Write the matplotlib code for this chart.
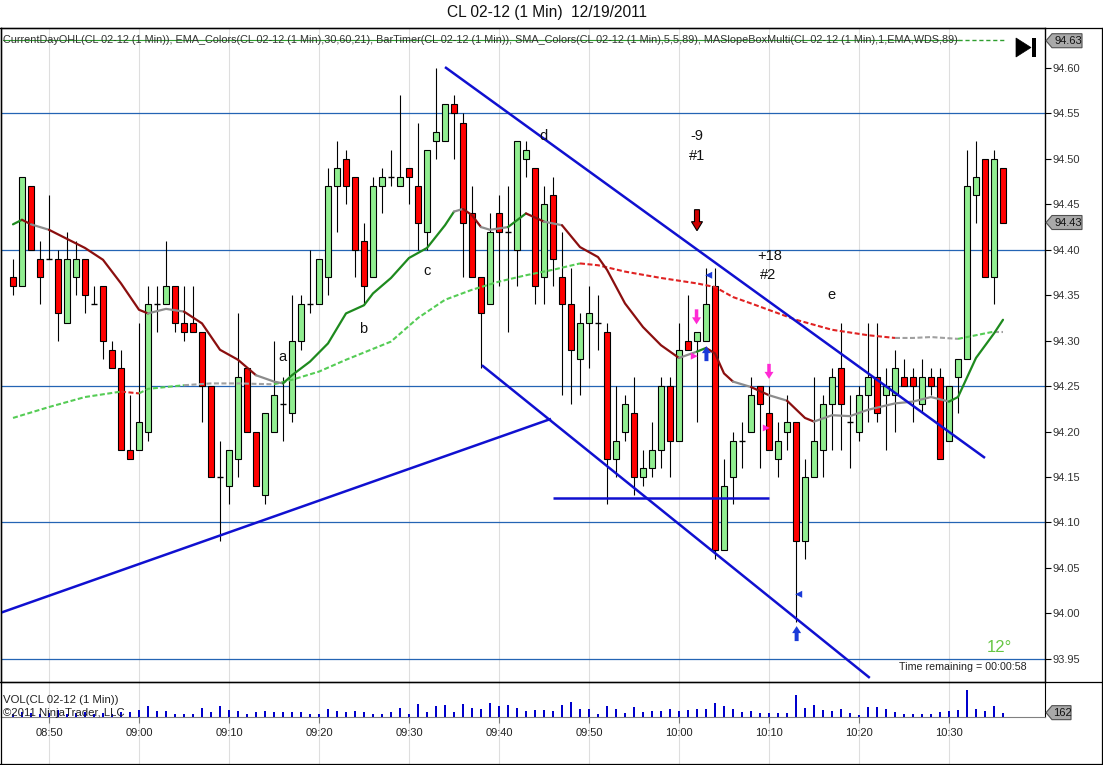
import matplotlib
matplotlib.use("Agg")
import matplotlib.pyplot as plt
import numpy as np
import pandas as pd
from matplotlib.patches import Rectangle, Polygon

plt.rcParams['font.family'] = ['Liberation Sans', 'DejaVu Sans']

W, H = 1103, 765

# ---------------- data ----------------
title = "CL 02-12 (1 Min)  12/19/2011"
indicator_text = ("CurrentDayOHL(CL 02-12 (1 Min)), EMA_Colors(CL 02-12 (1 Min),30,60,21), "
                  "BarTimer(CL 02-12 (1 Min)), SMA_Colors(CL 02-12 (1 Min),5,5,89), "
                  "MASlopeBoxMulti(CL 02-12 (1 Min),1,EMA,WDS,89)")
bar_times = pd.date_range("2011-12-19 08:46", periods=111, freq="min")
tick_labels = ["08:50", "09:00", "09:10", "09:20", "09:30", "09:40",
               "09:50", "10:00", "10:10", "10:20", "10:30"]

opens = [94.37,94.36,94.47,94.39,94.39,94.39,94.32,94.37,94.39,94.34,
         94.36,94.29,94.27,94.18,94.18,94.20,94.34,94.34,94.36,94.32,
         94.32,94.31,94.25,94.15,94.14,94.17,94.27,94.20,94.13,94.20,
         94.23,94.22,94.30,94.34,94.34,94.37,94.47,94.50,94.48,94.41,
         94.37,94.47,94.48,94.47,94.49,94.47,94.42,94.52,94.52,94.56,
         94.54,94.44,94.37,94.34,94.44,94.42,94.40,94.50,94.49,94.37,
         94.46,94.37,94.34,94.28,94.32,94.32,94.31,94.17,94.20,94.22,
         94.15,94.16,94.18,94.25,94.19,94.30,94.30,94.30,94.36,94.07,
         94.15,94.19,94.20,94.25,94.22,94.17,94.20,94.21,94.08,94.15,
         94.18,94.23,94.27,94.21,94.20,94.24,94.26,94.24,94.24,94.26,
         94.26,94.23,94.26,94.26,94.19,94.26,94.28,94.46,94.50,94.37,
         94.49]
highs = [94.39,94.48,94.47,94.41,94.46,94.40,94.42,94.41,94.39,94.36,
         94.36,94.30,94.29,94.24,94.32,94.36,94.36,94.41,94.36,94.36,
         94.36,94.31,94.25,94.19,94.18,94.33,94.27,94.20,94.22,94.30,
         94.26,94.35,94.35,94.40,94.39,94.49,94.52,94.51,94.48,94.43,
         94.48,94.49,94.51,94.57,94.49,94.54,94.51,94.60,94.56,94.57,
         94.55,94.47,94.37,94.44,94.46,94.47,94.52,94.52,94.49,94.47,
         94.48,94.42,94.38,94.33,94.36,94.35,94.32,94.25,94.24,94.26,
         94.18,94.21,94.26,94.26,94.32,94.35,94.31,94.38,94.38,94.17,
         94.20,94.21,94.26,94.25,94.25,94.21,94.24,94.21,94.17,94.26,
         94.24,94.27,94.32,94.24,94.25,94.32,94.32,94.27,94.29,94.28,
         94.27,94.28,94.27,94.27,94.25,94.28,94.51,94.52,94.50,94.51,
         94.49]
lows = [94.35,94.36,94.40,94.34,94.39,94.30,94.32,94.35,94.33,94.34,
        94.28,94.27,94.18,94.17,94.18,94.19,94.31,94.34,94.31,94.30,
        94.31,94.21,94.15,94.08,94.12,94.15,94.20,94.14,94.12,94.20,
        94.19,94.21,94.29,94.33,94.34,94.35,94.42,94.45,94.37,94.34,
        94.37,94.44,94.47,94.47,94.45,94.40,94.40,94.50,94.52,94.50,
        94.37,94.37,94.27,94.34,94.36,94.31,94.36,94.48,94.34,94.34,
        94.36,94.24,94.23,94.24,94.27,94.29,94.12,94.15,94.19,94.13,
        94.14,94.15,94.16,94.15,94.19,94.29,94.21,94.30,94.06,94.07,
        94.12,94.16,94.20,94.16,94.18,94.15,94.18,93.99,94.06,94.15,
        94.15,94.18,94.18,94.16,94.19,94.21,94.21,94.18,94.20,94.25,
        94.21,94.22,94.24,94.17,94.19,94.22,94.28,94.43,94.37,94.34,
        94.43]
closes = [94.36,94.48,94.40,94.37,94.39,94.33,94.39,94.39,94.35,94.34,
          94.30,94.27,94.18,94.17,94.21,94.34,94.34,94.36,94.32,94.31,
          94.31,94.25,94.15,94.15,94.18,94.26,94.20,94.14,94.22,94.24,
          94.23,94.30,94.34,94.34,94.39,94.47,94.49,94.47,94.40,94.36,
          94.47,94.48,94.48,94.48,94.48,94.43,94.51,94.53,94.56,94.55,
          94.43,94.37,94.33,94.42,94.42,94.42,94.52,94.51,94.36,94.45,
          94.39,94.34,94.29,94.32,94.33,94.32,94.17,94.19,94.23,94.15,
          94.16,94.18,94.25,94.19,94.29,94.29,94.31,94.34,94.07,94.14,
          94.19,94.19,94.24,94.23,94.18,94.19,94.21,94.08,94.15,94.19,
          94.23,94.26,94.23,94.21,94.24,94.26,94.22,94.25,94.27,94.25,
          94.25,94.26,94.25,94.17,94.25,94.28,94.47,94.48,94.37,94.50,
          94.43]
volumes = [120,200,150,100,150,250,120,150,200,100,150,120,180,
           187,249,411,212,212,100,100,100,349,187,399,249,212,100,187,212,
           187,187,187,187,100,100,287,212,187,212,187,100,100,187,349,100,
           473,187,399,436,187,473,349,312,523,411,436,349,212,249,249,212,
           449,561,287,312,100,411,287,162,374,187,224,224,287,224,249,287,
           312,536,411,287,187,224,162,162,162,162,822,349,449,249,224,287,
           162,62,374,374,287,187,100,100,100,100,187,224,249,1009,312,224,
           411,162]

# EMA (solid, slope coloured) read at bar indices
ema_idx = [0,1,2,4,6,8,10,12,14,15,17,19,21,23,25,27,29,30,31,33,
           35,37,39,40,42,44,46,48,49,50,51,52,53,55,57,59,61,63,65,66,
           68,70,72,74,76,77,78,79,80,82,84,86,88,89,91,93,95,98,100,102,
           104,105,107,109,110]
ema_val = [94.428,94.433,94.428,94.422,94.412,94.402,94.389,94.363,94.334,94.330,
           94.335,94.332,94.319,94.290,94.279,94.262,94.255,94.253,94.262,94.277,
           94.297,94.330,94.339,94.352,94.369,94.391,94.402,94.427,94.442,94.445,
           94.438,94.425,94.422,94.425,94.440,94.431,94.427,94.403,94.392,94.378,
           94.341,94.315,94.295,94.281,94.288,94.292,94.286,94.264,94.255,94.249,
           94.240,94.234,94.215,94.211,94.218,94.217,94.224,94.231,94.233,94.238,
           94.233,94.238,94.281,94.308,94.323]
# SMA 89 (dashed, slope coloured)
sma_idx = [0,4,8,12,14,15,19,22,25,29,31,34,37,42,45,48,51,54,57,60,
           63,65,68,72,76,78,80,82,87,91,95,98,100,102,105,106,109,110]
sma_val = [94.215,94.227,94.238,94.244,94.242,94.247,94.251,94.253,94.253,94.252,
           94.257,94.266,94.279,94.299,94.325,94.345,94.356,94.365,94.372,94.378,
           94.385,94.383,94.376,94.369,94.363,94.359,94.348,94.341,94.323,94.312,
           94.306,94.303,94.303,94.304,94.302,94.304,94.310,94.310]

level_lines = [94.55, 94.40, 94.25, 94.10, 93.95]
# drawn trend lines: (x0, p0, x1, p1) in bar index / price
trend_lines = [(-1.44, 94.0004, 59.78, 94.214),
               (48.0, 94.601, 108.0, 94.171),
               (52.1, 94.273, 95.2, 93.929),
               (60.0, 94.127, 84.0, 94.127)]
letters = [("a", 29.9, 94.282), ("b", 38.9, 94.313), ("c", 46.0, 94.377),
           ("d", 59.0, 94.525), ("e", 90.9, 94.350),
           ("-9", 76.0, 94.525), ("#1", 76.0, 94.503),
           ("+18", 84.1, 94.393), ("#2", 83.9, 94.372)]
last_price = 94.43
session_high = 94.63
last_volume = 162

# ---------------- layout ----------------
fig = plt.figure(figsize=(W / 100, H / 100), dpi=100)
fig.patch.set_facecolor("white")


def px_rect(left, top, right, bottom):
    return [left / W, 1 - bottom / H, (right - left) / W, (bottom - top) / H]


n = len(opens)
x = np.arange(n)
XL = (-1.333, 114.667)

bg = fig.add_axes(px_rect(1, 28, 1045, 764))
bg.set_xlim(*XL)
bg.set_axis_off()
bg.set_zorder(0)

ax = fig.add_axes(px_rect(1, 28, 1045, 682))
ax.set_zorder(1)
ax.set_facecolor("none")
axv = fig.add_axes(px_rect(1, 682, 1045, 717))
axv.set_zorder(1)
axv.set_facecolor("none")

ax.set_xlim(*XL)
ax.set_ylim(93.9245, 94.644)
axv.set_xlim(*XL)
axv.set_ylim(0, 1308)

labels_all = list(bar_times.strftime("%H:%M"))
tick_pos = [labels_all.index(t) for t in tick_labels]
for t in tick_pos:
    bg.axvline(t, color="#dedede", lw=0.8)

# horizontal level lines
for lv in level_lines:
    ax.axhline(lv, color="#2464b4", lw=0.9, zorder=1)

# candles
BW = 0.66
for i in range(n):
    o, h, l, c = opens[i], highs[i], lows[i], closes[i]
    ax.vlines(i, l, h, color="black", lw=0.8, zorder=3)
    if abs(o - c) < 1e-9:
        ax.hlines(o, i - BW / 2, i + BW / 2, color="black", lw=1.0, zorder=4)
    else:
        col = "#90ee90" if c > o else "#ff0000"
        ax.add_patch(Rectangle((i - BW / 2, min(o, c)), BW, abs(c - o),
                               facecolor=col, edgecolor="black", lw=0.8, zorder=4))


def colored_line(a, xs, ys, thr, up, dn, flat, **kw):
    cols = []
    for k in range(len(xs) - 1):
        s = (ys[k + 1] - ys[k]) / (xs[k + 1] - xs[k])
        cols.append(up if s > thr else (dn if s < -thr else flat))
    start = 0
    for k in range(1, len(cols) + 1):
        if k == len(cols) or cols[k] != cols[start]:
            a.plot(xs[start:k + 1], ys[start:k + 1], color=cols[start], **kw)
            start = k


colored_line(ax, sma_idx, sma_val, 0.0009, "#55cc55", "#e02222", "#a0a0a0",
             lw=1.5, ls=(0, (2.4, 1.2)), zorder=5, solid_capstyle="butt")
colored_line(ax, ema_idx, ema_val, 0.004, "#1e8a1e", "#8b0f0f", "#8c8c8c",
             lw=1.6, zorder=6, solid_capstyle="round")

for (x0, p0, x1, p1) in trend_lines:
    ax.plot([x0, x1], [p0, p1], color="#1010d0", lw=1.8, zorder=7,
            solid_capstyle="butt", clip_on=True)

for (s, xi, p) in letters:
    ax.text(xi, p, s, ha="center", va="center", fontsize=10.5, color="#111111", zorder=8)

# price axis
ax.yaxis.tick_right()
yt = np.round(np.arange(93.95, 94.601, 0.05), 2)
ax.set_yticks(yt)
ax.set_yticklabels([f"{v:.2f}" for v in yt])
ax.tick_params(axis="y", direction="out", length=4, width=0.8, labelsize=8,
               pad=1.5, colors="black", labelcolor="#333333")
ax.set_xticks([])
for sp in ax.spines.values():
    sp.set_color("black")
    sp.set_linewidth(1.0)

# volume
axv.bar(x, volumes, width=0.22, color="#0000cc", zorder=3)
axv.set_yticks([])
axv.set_xticks(tick_pos)
axv.set_xticklabels(tick_labels)
axv.tick_params(axis="x", direction="out", length=4, width=0.8, color="#808080",
                labelsize=8, pad=4, labelcolor="#222222")
axv.spines["top"].set_visible(False)
axv.spines["left"].set_color("black")
axv.spines["right"].set_color("black")
axv.spines["bottom"].set_color("#808080")

# ---------------- overlay (pixel coordinates, y up) ----------------
ov = fig.add_axes([0, 0, 1, 1])
ov.set_xlim(0, W)
ov.set_ylim(0, H)
ov.set_axis_off()
ov.set_zorder(10)


def Y(ypx):
    return H - ypx


# frame
for yy in (28, 682, 764):
    ov.plot([0, W], [Y(yy), Y(yy)], color="black", lw=0.9)
ov.plot([0.5, 0.5], [Y(28), Y(764)], color="black", lw=0.9)
ov.plot([W - 1, W - 1], [Y(28), Y(764)], color="black", lw=0.9)

fig.text(547 / W, 1 - 13 / H, title, ha="center", va="center", fontsize=11.2, color="#111111")

# indicator legend line, fitted to width
leg = ov.text(3, Y(40), indicator_text, ha="left", va="center", fontsize=8, color="#333333")
fig.canvas.draw()
r = fig.canvas.get_renderer()
wpx = leg.get_window_extent(r).width
leg.set_fontsize(8 * 955 / wpx)
fig.canvas.draw()
wpx = leg.get_window_extent(r).width
ov.plot([3, 3 + wpx], [Y(40), Y(40)], color="#2e9e2e", lw=0.8)
ov.plot([3 + wpx, 1005], [Y(40), Y(40)], color="#2e9e2e", lw=1.0, ls=(0, (3, 2)))

# play-to-end icon
ov.add_patch(Polygon([(1016, Y(38)), (1016, Y(57)), (1031, Y(47.5))], closed=True,
                     facecolor="black", edgecolor="black", lw=0.5))
ov.add_patch(Rectangle((1032, Y(57)), 4, 19, facecolor="black", edgecolor="none"))


def to_px(a, xv, yv):
    return a.transData.transform((xv, yv))


def marker_box(yc, txt, x0=1046, x1=1082):
    pts = [(x0, yc), (x0 + 6, yc + 7), (x1, yc + 7), (x1, yc - 7), (x0 + 6, yc - 7)]
    ov.add_patch(Polygon(pts, closed=True, facecolor="#a9a9a9", edgecolor="#505050", lw=0.8))
    ov.text((x0 + 6 + x1) / 2 + 1, yc, txt, ha="center", va="center", fontsize=8, color="#111111")


marker_box(to_px(ax, 0, session_high)[1], f"{session_high:.2f}")
marker_box(to_px(ax, 0, last_price)[1], f"{last_price:.2f}")
marker_box(to_px(axv, 0, last_volume)[1], f"{last_volume}", x1=1071)


def arrow(xv, pv, direction, color, L, hw, hl, sw, edge="none"):
    px, py = to_px(ax, xv, pv)
    s = 1 if direction == "down" else -1
    pts = [(0, 0), (-hw / 2, hl), (-sw / 2, hl), (-sw / 2, L), (sw / 2, L), (sw / 2, hl), (hw / 2, hl)]
    pts = [(px + a, py + s * b) for a, b in pts]
    ov.add_patch(Polygon(pts, closed=True, facecolor=color, edgecolor=edge, lw=0.8))


def tri(xv, pv, direction, color, size=6):
    px, py = to_px(ax, xv, pv)
    if direction == "left":
        pts = [(px - size / 2, py), (px + size / 2, py + size / 2), (px + size / 2, py - size / 2)]
    else:
        pts = [(px + size / 2, py), (px - size / 2, py + size / 2), (px - size / 2, py - size / 2)]
    ov.add_patch(Polygon(pts, closed=True, facecolor=color, edgecolor="none"))


arrow(76.0, 94.421, "down", "#d00000", 21, 11, 9, 5, edge="black")
arrow(75.95, 94.318, "down", "#ff2ad4", 15, 9, 7, 3.5)
arrow(84.0, 94.258, "down", "#ff2ad4", 15, 9, 7, 3.5)
arrow(77.05, 94.294, "up", "#1a3ad8", 15, 9, 7, 4)
arrow(87.07, 93.986, "up", "#1a3ad8", 15, 9, 7, 4)
tri(75.7, 94.283, "right", "#ff2ad4", 7)
tri(83.7, 94.204, "right", "#ff2ad4", 7)
tri(77.3, 94.372, "left", "#1a3ad8", 7)
tri(87.3, 94.021, "left", "#1a3ad8", 7)

ov.text(999, Y(647), "12°", ha="center", va="center", fontsize=12, color="#66c644")
ov.text(1027, Y(667), "Time remaining = 00:00:58", ha="right", va="center",
        fontsize=7.7, color="#222222")
ov.text(3, Y(700), "VOL(CL 02-12 (1 Min))", ha="left", va="center", fontsize=8.2, color="#222222")
ov.text(3, Y(713), "©2011 NinjaTrader, LLC", ha="left", va="center", fontsize=8.2, color="#222222")

fig.savefig("out.png", dpi=100, facecolor="white")
